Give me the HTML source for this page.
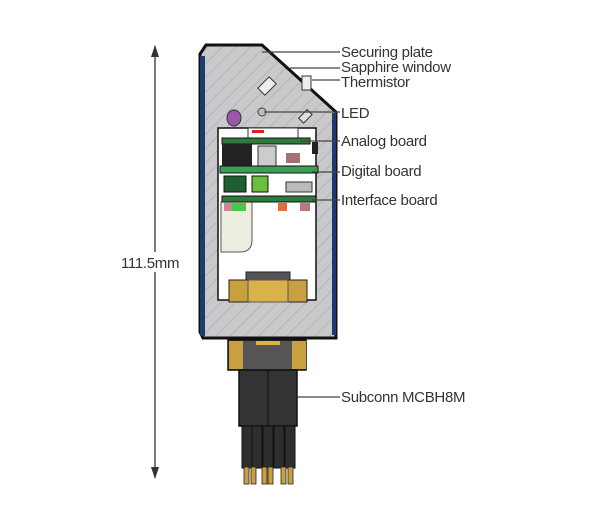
<!DOCTYPE html>
<html><head><meta charset="utf-8"><style>
html,body{margin:0;padding:0;background:#fff;}
svg{display:block;}
text{font-family:"Liberation Sans Narrow","Liberation Sans",sans-serif;font-size:15px;letter-spacing:-0.3px;fill:#333;}
</style></head><body>
<svg width="600" height="527" viewBox="0 0 600 527" xmlns="http://www.w3.org/2000/svg">
<defs>
<pattern id="h" width="10" height="10" patternUnits="userSpaceOnUse" patternTransform="rotate(45)">
<rect width="10" height="10" fill="#c9c9cc"/><line x1="0" y1="0" x2="0" y2="10" stroke="#a9a9ad" stroke-width="1.2"/>
</pattern>
</defs>
<line x1="155" y1="46" x2="155" y2="478" stroke="#333" stroke-width="1.3"/>
<polygon points="155,45 151,57 159,57" fill="#333"/>
<polygon points="155,479 151,467 159,467" fill="#333"/>
<rect x="118" y="252" width="76" height="20" fill="#fff"/>
<text x="121" y="268">111.5mm</text>
<path d="M206,45 L262,45 L336,112 L336,338 L203,338 L200,332 L200,54 Z" fill="url(#h)" stroke="#111" stroke-width="3"/>
<rect x="200" y="56" width="5" height="280" fill="#1f3a6e"/>
<rect x="332" y="113" width="4" height="222" fill="#1f3a6e"/>
<path d="M218,128 L316,128 L316,300 L218,300 Z" fill="#fff" stroke="#111" stroke-width="1.5"/>
<path d="M221,202 L252,202 L252,240 Q252,252 240,252 L221,252 Z" fill="#eeeee0" stroke="#555" stroke-width="1"/>
<rect x="262" y="78" width="10" height="16" fill="#eee" stroke="#333" transform="rotate(45 267 86)"/>
<rect x="302" y="76" width="9" height="14" fill="#eee" stroke="#333"/>
<circle cx="262" cy="112" r="4" fill="#bbb" stroke="#444"/>
<rect x="302" y="110" width="7" height="12" fill="#ddd" stroke="#333" transform="rotate(45 305 116)"/>
<ellipse cx="234" cy="118" rx="7" ry="8" fill="#9a56a8" stroke="#333"/>
<rect x="248" y="128" width="50" height="10" fill="#fff" stroke="#333"/>
<rect x="252" y="130" width="12" height="3" fill="#d22"/>
<rect x="222" y="138" width="88" height="6" fill="#2f7a3c" stroke="#111"/>
<rect x="222" y="144" width="30" height="22" fill="#222"/>
<rect x="258" y="146" width="18" height="20" fill="#ccc" stroke="#333"/>
<rect x="286" y="153" width="14" height="10" fill="#a87070"/>
<rect x="312" y="142" width="6" height="12" fill="#222"/>
<rect x="220" y="166" width="98" height="7" fill="#3aa055" stroke="#111"/>
<rect x="224" y="176" width="22" height="16" fill="#1f5e30" stroke="#111"/>
<rect x="252" y="176" width="16" height="16" fill="#6cbe3c" stroke="#111"/>
<rect x="286" y="182" width="26" height="10" fill="#bbb" stroke="#333"/>
<rect x="222" y="196" width="94" height="6" fill="#2f7a3c" stroke="#111"/>
<rect x="224" y="203" width="10" height="8" fill="#c88"/>
<rect x="232" y="203" width="14" height="8" fill="#4c4"/>
<rect x="278" y="203" width="9" height="8" fill="#e66a3a"/>
<rect x="300" y="203" width="10" height="8" fill="#b87878"/>
<rect x="246" y="272" width="44" height="8" fill="#555" stroke="#222"/>
<rect x="229" y="280" width="78" height="22" fill="#c8a040" stroke="#222"/>
<rect x="248" y="280" width="40" height="22" fill="#d9b24a" stroke="#555"/>
<rect x="228" y="340" width="78" height="30" fill="#555" stroke="#111" stroke-width="1.5"/>
<rect x="229" y="341" width="14" height="28" fill="#c8a040"/>
<rect x="292" y="341" width="14" height="28" fill="#c8a040"/>
<rect x="256" y="341" width="24" height="4" fill="#d9b24a"/>
<rect x="239" y="370" width="58" height="56" fill="#333" stroke="#111" stroke-width="1.5"/>
<line x1="268" y1="370" x2="268" y2="426" stroke="#111"/>
<g fill="#2e2e2e" stroke="#111">
<rect x="242" y="426" width="10" height="42"/><rect x="252" y="426" width="10" height="42"/>
<rect x="263" y="426" width="10" height="42"/><rect x="274" y="426" width="10" height="42"/>
<rect x="285" y="426" width="10" height="42"/>
</g>
<g fill="#c8a040" stroke="#222" stroke-width="0.8">
<rect x="244" y="467" width="5" height="17"/><rect x="251" y="467" width="5" height="17"/>
<rect x="262" y="467" width="5" height="17"/><rect x="268" y="467" width="5" height="17"/>
<rect x="281" y="467" width="5" height="17"/><rect x="288" y="467" width="5" height="17"/>
</g>
<g stroke="#444" stroke-width="1.2">
<line x1="262" y1="52" x2="340" y2="52"/>
<line x1="290" y1="68" x2="340" y2="68"/>
<line x1="312" y1="80" x2="340" y2="80"/>
<line x1="264" y1="112" x2="340" y2="112"/>
<line x1="300" y1="141" x2="340" y2="141"/>
<line x1="312" y1="172" x2="340" y2="172"/>
<line x1="312" y1="200" x2="340" y2="200"/>
<line x1="297" y1="397" x2="340" y2="397"/>
</g>
<text x="341" y="57">Securing plate</text>
<text x="341" y="72">Sapphire window</text>
<text x="341" y="87">Thermistor</text>
<text x="341" y="118">LED</text>
<text x="341" y="146">Analog board</text>
<text x="341" y="176">Digital board</text>
<text x="341" y="205">Interface board</text>
<text x="341" y="402">Subconn MCBH8M</text>
</svg>
</body></html>
